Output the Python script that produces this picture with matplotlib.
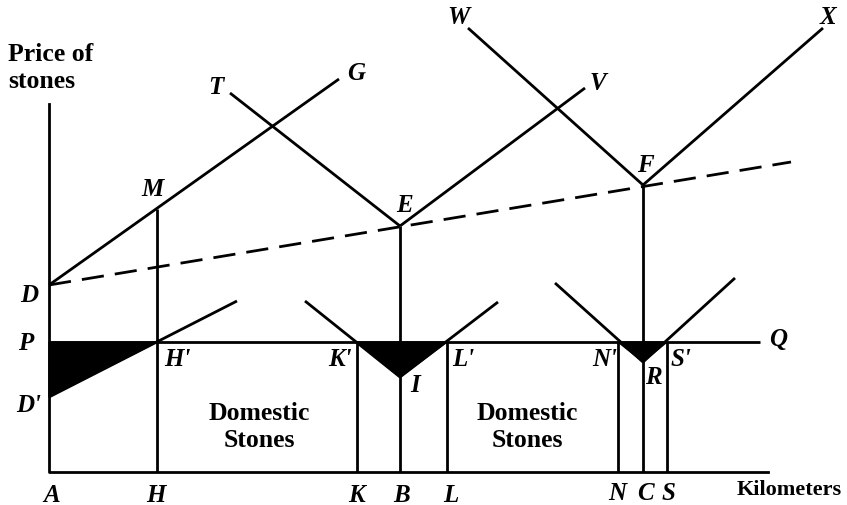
import matplotlib.pyplot as plt
from matplotlib.patches import Polygon

# diagram points, in picture units (x right, y down)
axis_x = [49, 49, 768]
axis_y = [104, 472, 472]

D = (49, 285)
P = (49, 342)
D2 = (49, 397)
Q = (760, 342)
M = (157, 209)
G = (339, 79)
T = (230, 93)
E = (400, 226)
V = (585, 88)
W = (468, 28)
F = (643, 185)
X = (823, 28)
dash_end = (791, 162)

H = 157
K, B, L = 357, 400, 447
N, C, S = 618, 643, 667
I = (400, 377)
R = (643, 362)
Hp_end = (237, 301)
Kp_start, Lp_end = (305, 301), (498, 302)
Np_start, Sp_end = (555, 283), (735, 278)

# point labels and where they sit
labels = [('T', 216, 87), ('G', 356, 73), ('M', 152, 189), ('E', 404, 205),
          ('W', 458, 18), ('V', 598, 83), ('X', 828, 17), ('F', 645, 165),
          ('D', 29, 295), ('P', 26, 343), ("D'", 29, 405), ("H'", 177, 360),
          ("K'", 340, 360), ("L'", 463, 360), ('I', 415, 385), ("N'", 605, 360),
          ('R', 653, 377), ("S'", 681, 360), ('Q', 778, 340),
          ('A', 52, 495), ('H', 156, 495), ('K', 357, 495), ('B', 402, 495),
          ('L', 451, 495), ('N', 617, 494), ('C', 645, 494), ('S', 668, 494)]

lw = 2.0
fig = plt.figure(figsize=(8.47, 5.05), dpi=100)
ax = fig.add_axes([0, 0, 1, 1])
ax.set_xlim(0, 847)
ax.set_ylim(505, 0)
ax.axis('off')

def seg(p, q, **kw):
    ax.plot([p[0], q[0]], [p[1], q[1]], color='k', lw=lw, solid_capstyle='butt', **kw)

ax.plot(axis_x, axis_y, color='k', lw=lw)
seg(P, Q)
seg(D, G)
seg(T, E)
seg(E, V)
seg(W, F)
seg(F, X)
seg(D, dash_end, dashes=(8, 4))
seg(D2, Hp_end)

# verticals
seg((H, 472), (H, M[1]))
seg((B, 472), E)
seg((C, 472), F)
for xx in [K, L, N, S]:
    seg((xx, 472), (xx, 342))

# V shapes
seg(Kp_start, I)
seg(I, Lp_end)
seg(Np_start, R)
seg(R, Sp_end)

# black areas
ax.add_patch(Polygon([P, (H, 342), D2], closed=True, color='k'))
ax.add_patch(Polygon([(K, 342), (L, 342), I], closed=True, color='k'))
ax.add_patch(Polygon([(N, 342), (S, 342), R], closed=True, color='k'))

lab = dict(fontsize=18, family='Liberation Serif', style='italic', weight='bold',
           ha='center', va='center')
for t, x, y in labels:
    ax.text(x, y, t, **lab)

txt = dict(fontsize=18.5, family='Liberation Serif', weight='bold')
ax.text(8, 68, 'Price of\nstones', ha='left', va='center', linespacing=1.2, **txt)
ax.text(842, 490, 'Kilometers', ha='right', va='center', fontsize=16,
        family='Liberation Serif', weight='bold')
ax.text(259, 427, 'Domestic\nStones', ha='center', va='center', linespacing=1.2, **txt)
ax.text(527, 427, 'Domestic\nStones', ha='center', va='center', linespacing=1.2, **txt)

fig.savefig('out.png', dpi=100, facecolor='white')
